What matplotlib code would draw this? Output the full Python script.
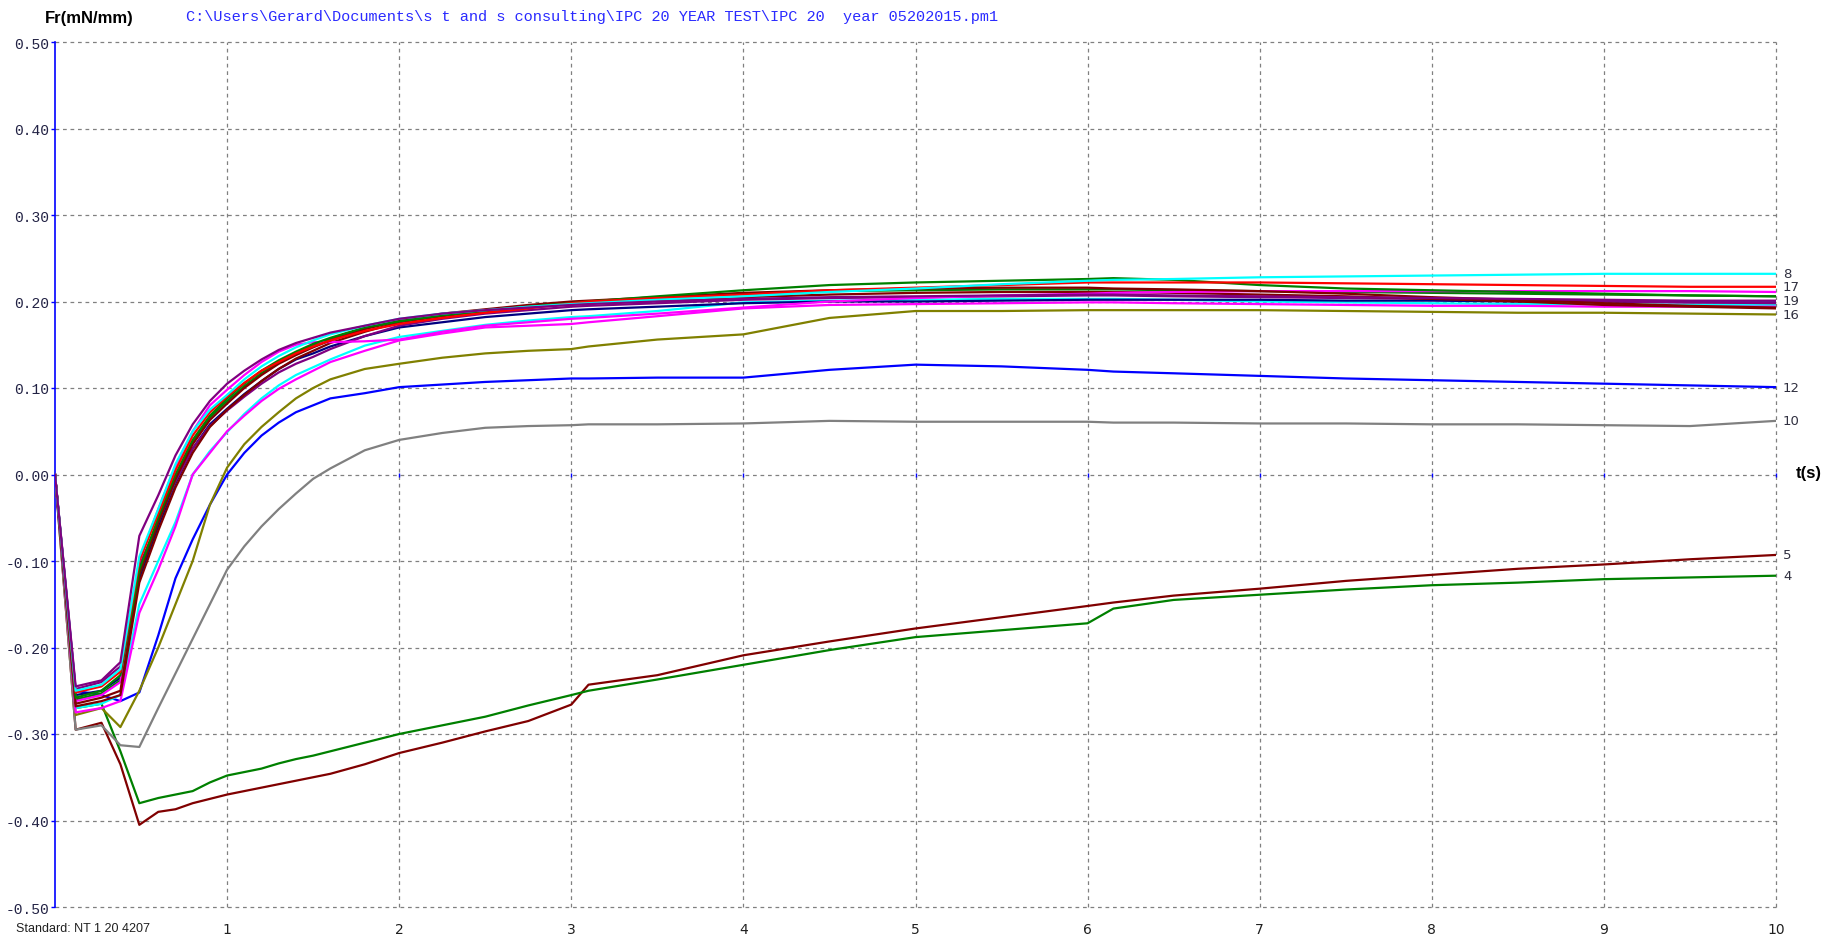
import numpy as np
import matplotlib
matplotlib.use("Agg")
from matplotlib import pyplot as plt

# time base (s) shared by all traces
t = [0, 0.12, 0.27, 0.38, 0.49, 0.6, 0.7, 0.8, 0.9, 1.0, 1.1, 1.2, 1.3, 1.4, 1.5, 1.6, 1.8, 2.0,
     2.25, 2.5, 2.75, 3.0, 3.1, 3.5, 4.0, 4.5, 5.0, 5.5, 6.0, 6.15, 6.5, 7.0, 7.5, 8.0, 8.5, 9.0, 9.5, 10.0]

# Fr (mN/mm) per trace
fr_purple = [0, -0.245, -0.238, -0.217, -0.071, -0.024, 0.022, 0.058, 0.085, 0.105, 0.12, 0.133, 0.144, 0.152, 0.158, 0.164, 0.172, 0.18,
             0.186, 0.19, 0.193, 0.196, 0.197, 0.2, 0.203, 0.205, 0.206, 0.207, 0.208, 0.208, 0.207, 0.206, 0.205, 0.204, 0.203, 0.202, 0.201, 0.201]
fr_cyan8 = [0, -0.25, -0.243, -0.225, -0.095, -0.04, 0.012, 0.05, 0.075, 0.092, 0.11, 0.125, 0.137, 0.147, 0.155, 0.162, 0.172, 0.18,
            0.186, 0.19, 0.194, 0.197, 0.198, 0.202, 0.206, 0.211, 0.215, 0.22, 0.224, 0.225, 0.226, 0.228, 0.229, 0.23, 0.231, 0.232, 0.232, 0.232]
fr_red17 = [0, -0.252, -0.245, -0.228, -0.1, -0.045, 0.005, 0.045, 0.072, 0.09, 0.106, 0.12, 0.13, 0.14, 0.148, 0.155, 0.166, 0.174,
            0.181, 0.187, 0.192, 0.198, 0.2, 0.204, 0.208, 0.213, 0.216, 0.219, 0.222, 0.222, 0.222, 0.222, 0.221, 0.22, 0.219, 0.218, 0.217, 0.217]
fr_green = [0, -0.258, -0.25, -0.232, -0.11, -0.05, 0.0, 0.04, 0.068, 0.088, 0.105, 0.12, 0.132, 0.142, 0.151, 0.158, 0.17, 0.177,
            0.184, 0.189, 0.194, 0.198, 0.2, 0.206, 0.213, 0.219, 0.222, 0.224, 0.226, 0.227, 0.225, 0.219, 0.215, 0.213, 0.211, 0.209, 0.207, 0.206]
fr_green2 = [0, -0.26, -0.253, -0.238, -0.115, -0.055, -0.005, 0.038, 0.066, 0.085, 0.102, 0.117, 0.13, 0.14, 0.149, 0.157, 0.169, 0.178,
             0.185, 0.19, 0.195, 0.199, 0.2, 0.204, 0.209, 0.212, 0.213, 0.214, 0.214, 0.214, 0.213, 0.212, 0.211, 0.21, 0.209, 0.208, 0.207, 0.206]
fr_maroon = [0, -0.265, -0.258, -0.25, -0.115, -0.055, -0.005, 0.035, 0.063, 0.082, 0.1, 0.115, 0.128, 0.138, 0.147, 0.155, 0.168, 0.178,
             0.186, 0.191, 0.196, 0.2, 0.201, 0.205, 0.21, 0.213, 0.215, 0.216, 0.216, 0.215, 0.214, 0.212, 0.209, 0.205, 0.202, 0.198, 0.195, 0.193]
fr_maroon2 = [0, -0.268, -0.262, -0.255, -0.125, -0.065, -0.015, 0.025, 0.055, 0.075, 0.092, 0.108, 0.122, 0.134, 0.143, 0.152, 0.165, 0.176,
              0.183, 0.189, 0.194, 0.197, 0.198, 0.201, 0.205, 0.208, 0.21, 0.211, 0.211, 0.211, 0.21, 0.208, 0.206, 0.203, 0.2, 0.196, 0.194, 0.192]
fr_navy = [0, -0.255, -0.25, -0.235, -0.12, -0.06, -0.01, 0.03, 0.058, 0.076, 0.093, 0.108, 0.122, 0.133, 0.14, 0.148, 0.16, 0.17,
           0.176, 0.182, 0.186, 0.19, 0.191, 0.194, 0.198, 0.2, 0.2, 0.201, 0.202, 0.202, 0.202, 0.202, 0.201, 0.201, 0.2, 0.2, 0.199, 0.199]
fr_purple2 = [0, -0.248, -0.24, -0.222, -0.105, -0.055, -0.008, 0.03, 0.056, 0.074, 0.09, 0.105, 0.118, 0.128, 0.136, 0.145, 0.16, 0.172,
              0.18, 0.186, 0.19, 0.194, 0.195, 0.198, 0.202, 0.204, 0.205, 0.206, 0.207, 0.207, 0.206, 0.205, 0.204, 0.203, 0.202, 0.2, 0.199, 0.198]
fr_magenta = [0, -0.262, -0.255, -0.24, -0.1, -0.04, 0.01, 0.05, 0.08, 0.098, 0.115, 0.13, 0.142, 0.15, 0.153, 0.153, 0.154, 0.156,
              0.165, 0.172, 0.176, 0.18, 0.181, 0.186, 0.193, 0.2, 0.204, 0.207, 0.209, 0.21, 0.211, 0.212, 0.212, 0.212, 0.212, 0.212, 0.212, 0.211]
fr_magenta2 = [0, -0.275, -0.27, -0.262, -0.16, -0.11, -0.06, 0.0, 0.025, 0.05, 0.068, 0.085, 0.099, 0.11, 0.12, 0.13, 0.143, 0.155,
               0.163, 0.17, 0.172, 0.174, 0.176, 0.183, 0.192, 0.196, 0.197, 0.198, 0.199, 0.199, 0.198, 0.197, 0.196, 0.195, 0.195, 0.194, 0.194, 0.194]
fr_cyan2 = [0, -0.27, -0.265, -0.255, -0.15, -0.1, -0.055, 0.0, 0.027, 0.049, 0.07, 0.088, 0.103, 0.115, 0.124, 0.133, 0.149, 0.159,
            0.166, 0.173, 0.178, 0.182, 0.183, 0.189, 0.199, 0.201, 0.202, 0.203, 0.203, 0.203, 0.202, 0.2, 0.199, 0.198, 0.197, 0.197, 0.196, 0.196]
fr_olive16 = [0, -0.278, -0.27, -0.292, -0.25, -0.2, -0.15, -0.1, -0.035, 0.008, 0.035, 0.055, 0.072, 0.088, 0.1, 0.11, 0.122, 0.128,
              0.135, 0.14, 0.143, 0.145, 0.148, 0.156, 0.162, 0.181, 0.189, 0.189, 0.19, 0.19, 0.19, 0.19, 0.189, 0.188, 0.187, 0.187, 0.186, 0.185]
fr_blue12 = [0, -0.25, -0.255, -0.262, -0.252, -0.186, -0.12, -0.075, -0.035, 0.0, 0.025, 0.045, 0.06, 0.072, 0.08, 0.088, 0.094, 0.101,
             0.104, 0.107, 0.109, 0.111, 0.111, 0.112, 0.112, 0.121, 0.127, 0.125, 0.121, 0.119, 0.117, 0.114, 0.111, 0.109, 0.107, 0.105, 0.103, 0.101]
fr_gray10 = [0, -0.295, -0.29, -0.313, -0.315, -0.27, -0.23, -0.19, -0.15, -0.11, -0.083, -0.06, -0.04, -0.022, -0.005, 0.007, 0.028, 0.04,
             0.048, 0.054, 0.056, 0.057, 0.058, 0.058, 0.059, 0.062, 0.061, 0.061, 0.061, 0.06, 0.06, 0.059, 0.059, 0.058, 0.058, 0.057, 0.056, 0.062]
fr_maroon5 = [0, -0.295, -0.287, -0.335, -0.405, -0.39, -0.387, -0.38, -0.375, -0.37, -0.366, -0.362, -0.358, -0.354, -0.35, -0.346, -0.335, -0.322,
              -0.31, -0.297, -0.285, -0.266, -0.243, -0.232, -0.209, -0.193, -0.178, -0.165, -0.152, -0.148, -0.14, -0.132, -0.123, -0.116, -0.109, -0.104, -0.098, -0.093]
fr_green4 = [0, -0.27, -0.265, -0.32, -0.38, -0.374, -0.37, -0.366, -0.356, -0.348, -0.344, -0.34, -0.334, -0.329, -0.325, -0.32, -0.31, -0.3,
             -0.29, -0.28, -0.267, -0.255, -0.25, -0.237, -0.22, -0.203, -0.188, -0.18, -0.172, -0.155, -0.145, -0.139, -0.133, -0.128, -0.125, -0.121, -0.119, -0.117]

# (values, colour, end label)
traces = [
    (fr_maroon5, "#800000", "5"),
    (fr_green4, "#008000", "4"),
    (fr_gray10, "#808080", "10"),
    (fr_blue12, "#0000ff", "12"),
    (fr_olive16, "#808000", "16"),
    (fr_cyan2, "#00ffff", None),
    (fr_magenta2, "#ff00ff", None),
    (fr_navy, "#000080", None),
    (fr_purple2, "#800080", None),
    (fr_maroon2, "#800000", None),
    (fr_green2, "#008000", None),
    (fr_magenta, "#ff00ff", None),
    (fr_maroon, "#800000", None),
    (fr_green, "#008000", None),
    (fr_red17, "#ff0000", "17"),
    (fr_cyan8, "#00ffff", "8"),
    (fr_purple, "#800080", "19"),
]

path_text = r"C:\Users\Gerard\Documents\s t and s consulting\IPC 20 YEAR TEST\IPC 20  year 05202015.pm1"
yticks = [0.5, 0.4, 0.3, 0.2, 0.1, 0.0, -0.1, -0.2, -0.3, -0.4, -0.5]
xticks = [1, 2, 3, 4, 5, 6, 7, 8, 9, 10]

W, H = 1835, 937
fig = plt.figure(figsize=(W / 100, H / 100), dpi=100)
fig.patch.set_facecolor("white")
ax = fig.add_axes([55 / W, 1 - 908 / H, (1776 - 55) / W, (908 - 43) / H])

ax.set_xlim(0, 10)
ax.set_ylim(-0.5, 0.5)

dash = (0, (3, 3))
for x in xticks:
    ax.axvline(x, color="#808080", lw=0.9, ls=dash, zorder=1, clip_on=False)
for y in yticks:
    ax.axhline(y, color="#808080", lw=0.9, ls=dash, zorder=1, clip_on=False)

for vals, col, lab in traces:
    ax.plot(t, vals, color=col, lw=1.6, zorder=3)

# little blue marks on the t axis
ax.plot(xticks, np.zeros(len(xticks)), ls="none", marker="|", ms=3, color="#0000ff",
        zorder=4, clip_on=False)

# end labels, drawn with white boxes so they crop each other like the original
label_order = ["5", "4", "10", "12", "8", "17", "16", "19"]
lookup = {lab: (vals, col) for vals, col, lab in traces if lab}
for lab in label_order:
    vals = lookup[lab][0]
    ax.text(10.04, vals[-1], lab, fontsize=9.5, color="#303040", va="center", ha="left",
            clip_on=False, zorder=5,
            bbox=dict(facecolor="white", edgecolor="none", pad=0.5))

for s in ["top", "right", "bottom"]:
    ax.spines[s].set_visible(False)
ax.spines["left"].set_color("#0000ff")
ax.spines["left"].set_linewidth(1.2)

ax.set_yticks(yticks)
ax.set_yticklabels([f"{v:.2f}" for v in yticks], fontfamily="Liberation Mono", fontsize=10.5, color="#222244")
ax.tick_params(axis="y", length=3, width=1, color="#0000ff", pad=1)
ax.set_xticks(xticks)
ax.set_xticklabels([str(v) for v in xticks], fontsize=10, color="#202020")
ax.tick_params(axis="x", length=0, pad=11)

fig.text(45 / W, 1 - 19 / H, "Fr(mN/mm)", fontfamily="Liberation Sans", fontweight="bold",
         fontsize=12, va="center", ha="left")
fig.text(186 / W, 1 - 17 / H, path_text, fontfamily="Liberation Mono", fontsize=11,
         color="#2a2aff", va="center", ha="left")
fig.text(1796 / W, 1 - 474 / H, "t(s)", fontfamily="Liberation Sans", fontweight="bold",
         fontsize=12, va="center", ha="left")
fig.text(16 / W, 1 - 935 / H, "Standard: NT 1 20 4207", fontfamily="Liberation Sans",
         fontsize=9, va="bottom", ha="left", color="#202020")

fig.savefig("out.png", dpi=100, facecolor="white")
